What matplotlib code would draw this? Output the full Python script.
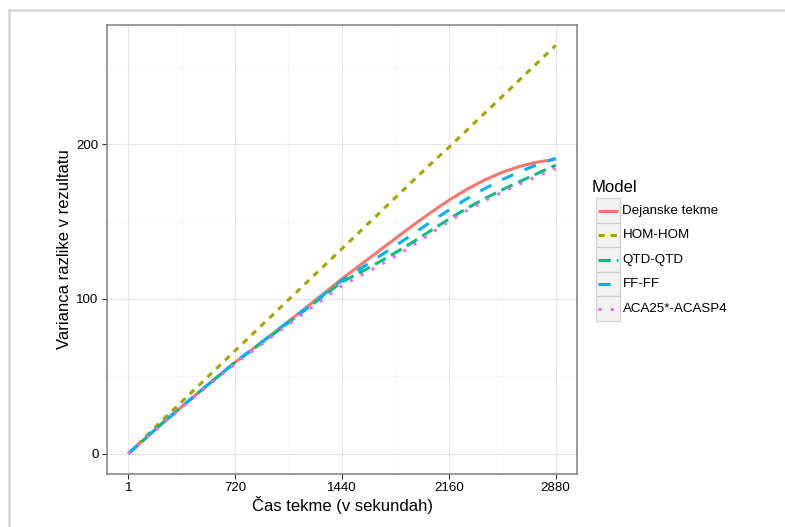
import matplotlib
matplotlib.use("Agg")
import matplotlib.pyplot as plt
from matplotlib.lines import Line2D
from matplotlib.patches import Rectangle
import numpy as np

plt.rcParams['font.family'] = ['Liberation Sans', 'DejaVu Sans']

# ---- data ----
time_s = [1, 240, 480, 720, 960, 1200, 1440, 1560, 1680, 1800, 1920, 2040,
          2160, 2280, 2400, 2520, 2640, 2760, 2880]
dejanske = [0, 20.5, 40, 59, 76.5, 94.5, 113, 121.7, 130.4, 139.1, 147.7, 156.0,
            163.8, 170.8, 176.9, 181.9, 185.8, 188.6, 190.3]
hom_hom = [0, 22.5, 44.5, 66.5, 88.5, 110.5, 132.5, 143.5, 154.5, 165.5, 176.5, 187.5,
           198, 209, 220, 231, 242, 253, 264]
qtd_qtd = [0, 20.5, 40, 59, 76, 93.5, 111, 117.0, 123.3, 129.9, 136.9, 144.3,
           151.6, 158.5, 164.8, 170.6, 176.0, 181.3, 186.5]
ff_ff = [0, 20.5, 40, 59, 76.5, 94, 112, 119.3, 126.8, 134.4, 142.1, 149.9,
         157.5, 164.7, 171.3, 177.2, 182.4, 187.0, 191.0]
aca = [0, 20, 39.5, 58, 75, 92, 108.6, 114.8, 121.0, 127.6, 134.8, 142.5,
       150.1, 157.1, 163.4, 169.1, 174.5, 179.5, 184.3]

series_names = ["Dejanske tekme", "HOM-HOM", "QTD-QTD", "FF-FF", "ACA25*-ACASP4"]
series_vals = [dejanske, hom_hom, qtd_qtd, ff_ff, aca]
colors = ["#F8766D", "#A3A500", "#00BF7D", "#00B0F6", "#E76BF3"]
dashes = [None, (2, 2), (4, 2), (4, 4), (1, 3)]

x_ticks = [1, 720, 1440, 2160, 2880]
y_ticks = [0, 100, 200]

LW = 2.2

W, H = 785, 527
fig = plt.figure(figsize=(W / 100, H / 100), dpi=100)
fig.patch.set_facecolor("white")

# panel
pl, pr, pt, pb = 107, 577, 25, 474
ax = fig.add_axes([pl / W, 1 - pb / H, (pr - pl) / W, (pb - pt) / H])

xr = x_ticks[-1] - x_ticks[0]
ax.set_xlim(x_ticks[0] - 0.05 * xr, x_ticks[-1] + 0.05 * xr)
ymax = max(hom_hom)
ax.set_ylim(-0.05 * ymax, ymax * 1.05)

# grid
xminor = [(a + b) / 2 for a, b in zip(x_ticks[:-1], x_ticks[1:])]
yminor = [50, 150, 250]
for xm in xminor:
    ax.axvline(xm, color="#F7F7F7", lw=0.8, zorder=0)
for ym in yminor:
    ax.axhline(ym, color="#F7F7F7", lw=0.8, zorder=0)
for xm in x_ticks:
    ax.axvline(xm, color="#E5E5E5", lw=0.8, zorder=0.5)
for ym in y_ticks:
    ax.axhline(ym, color="#E5E5E5", lw=0.8, zorder=0.5)

for name, vals, c, d in zip(series_names, series_vals, colors, dashes):
    ln, = ax.plot(time_s, vals, color=c, lw=LW, solid_capstyle="butt",
                  dash_capstyle="butt", solid_joinstyle="round", zorder=2)
    if d is not None:
        ln.set_dashes(d)

ax.set_xticks(x_ticks)
ax.set_xticklabels([str(v) for v in x_ticks])
ax.set_yticks(y_ticks)
ax.set_yticklabels([str(v) for v in y_ticks])
ax.tick_params(axis="both", length=3.5, width=0.8, color="#333333",
               labelsize=9.6, labelcolor="black", pad=2.5)
for s in ax.spines.values():
    s.set_color("#7F7F7F")
    s.set_linewidth(1.1)

ax.set_xlabel("Čas tekme (v sekundah)", fontsize=12, labelpad=1)
ax.set_ylabel("Varianca razlike v rezultatu", fontsize=12, labelpad=3)

# overlay for legend and outer frame (pixel coordinates)
ov = fig.add_axes([0, 0, 1, 1], facecolor="none")
ov.set_xlim(0, W)
ov.set_ylim(H, 0)
ov.axis("off")

ov.add_line(Line2D([8.5, 8.5], [10, H], color="#D6D6D6", lw=1.8))
ov.add_line(Line2D([8.5, W], [10, 10], color="#D6D6D6", lw=1.8))

ov.text(592, 187, "Model", fontsize=12, va="center", ha="left")
row_top = 198.3
row_h = 24.5
for i, (name, c, d) in enumerate(zip(series_names, colors, dashes)):
    y0 = row_top + i * row_h
    ov.add_patch(Rectangle((595.5, y0), 24.5, row_h, facecolor="#F2F2F2",
                           edgecolor="#D0D0D0", lw=0.9))
    yc = y0 + row_h / 2
    ln = Line2D([598, 617.5], [yc, yc], color=c, lw=LW, solid_capstyle="butt",
                dash_capstyle="butt")
    if d is not None:
        ln.set_dashes(d)
    ov.add_line(ln)
    ov.text(622.5, yc, name, fontsize=9.6, va="center", ha="left")

fig.savefig("out.png", dpi=100, facecolor="white")
